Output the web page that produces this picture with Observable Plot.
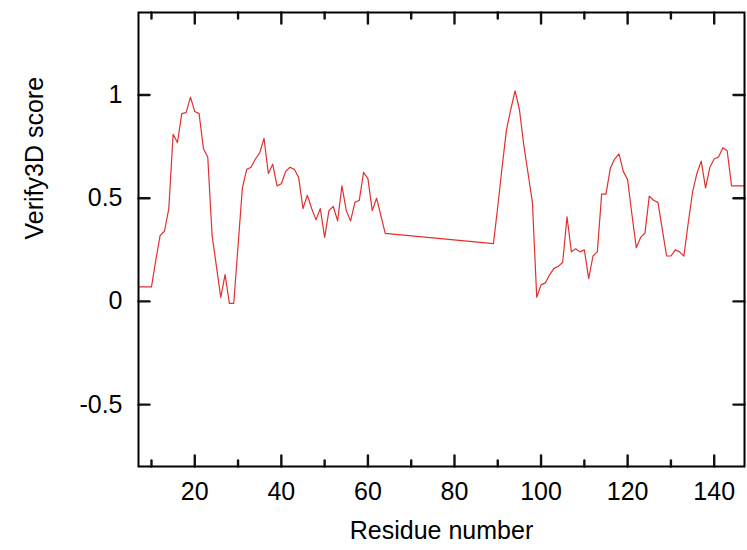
<!DOCTYPE html>
<html><head><meta charset="utf-8">
<script src="https://cdn.jsdelivr.net/npm/d3@7"></script>
<script src="https://cdn.jsdelivr.net/npm/@observablehq/plot@0.6"></script>
<style>body{margin:0;background:#fff}</style>
</head><body><div id="chart"></div>
<script>
const residues = [7,8,9,10,11,12,13,14,15,16,17,18,19,20,21,22,23,24,25,26,27,28,29,30,31,32,33,34,35,36,37,38,39,40,41,42,43,44,45,46,47,48,49,50,51,52,53,54,55,56,57,58,59,60,61,62,63,64,
  89,90,91,92,93,94,95,96,97,98,99,100,101,102,103,104,105,106,107,108,109,110,111,112,113,114,115,116,117,118,119,120,121,122,123,124,125,126,127,128,129,130,131,132,133,134,135,136,137,138,139,140,141,142,143,144,145,146,147];
const scores = [0.07,0.07,0.07,0.07,0.2,0.32,0.34,0.45,0.81,0.77,0.91,0.915,0.99,0.92,0.91,0.74,0.70,0.32,0.17,0.02,0.13,-0.01,-0.01,0.27,0.55,0.64,0.65,0.69,0.72,0.79,0.62,0.665,0.56,0.57,0.63,0.65,0.64,0.60,0.45,0.515,0.45,0.395,0.45,0.31,0.44,0.46,0.39,0.56,0.44,0.39,0.48,0.49,0.625,0.595,0.44,0.50,0.415,0.33,
  0.28,0.46,0.65,0.83,0.93,1.02,0.93,0.76,0.62,0.48,0.02,0.08,0.09,0.13,0.16,0.17,0.19,0.41,0.24,0.255,0.24,0.25,0.11,0.22,0.24,0.52,0.52,0.645,0.69,0.715,0.63,0.59,0.42,0.26,0.31,0.33,0.51,0.49,0.48,0.35,0.22,0.22,0.25,0.24,0.22,0.38,0.53,0.62,0.68,0.55,0.65,0.69,0.70,0.745,0.73,0.56,0.56,0.56,0.56];
const xMajorTicks = [20,40,60,80,100,120,140];
const xMinorTicks = [10,30,50,70,90,110,130];
const yTicks = [-0.5,0,0.5,1];
const xDomain = [7, 147];
const yDomain = [-0.8, 1.4];
const xLabel = "Residue number";
const yLabel = "Verify3D score";

const data = residues.map((r,i)=>({residue:r, score:scores[i]}));
const W = 747, H = 550, mL = 138, mR = 3, mT = 12, mB = 84;
const pW = W - mL - mR, pH = H - mT - mB;
const FS = 25;
const xPerPx = (xDomain[1] - xDomain[0]) / pW, yPerPx = (yDomain[1] - yDomain[0]) / pH;
const MAJ = 11, MIN = 6;
const tickSegs = [];
xMajorTicks.forEach(t => {
  tickSegs.push({k:"b"+t, x:t, y:yDomain[0]}, {k:"b"+t, x:t, y:yDomain[0] + MAJ*yPerPx});
  tickSegs.push({k:"t"+t, x:t, y:yDomain[1]}, {k:"t"+t, x:t, y:yDomain[1] - MAJ*yPerPx});
});
xMinorTicks.forEach(t => {
  tickSegs.push({k:"bm"+t, x:t, y:yDomain[0]}, {k:"bm"+t, x:t, y:yDomain[0] + MIN*yPerPx});
  tickSegs.push({k:"tm"+t, x:t, y:yDomain[1]}, {k:"tm"+t, x:t, y:yDomain[1] - MIN*yPerPx});
});
yTicks.forEach(t => {
  tickSegs.push({k:"l"+t, x:xDomain[0], y:t}, {k:"l"+t, x:xDomain[0] + MAJ*xPerPx, y:t});
  tickSegs.push({k:"r"+t, x:xDomain[1], y:t}, {k:"r"+t, x:xDomain[1] - MAJ*xPerPx, y:t});
});

const chart = Plot.plot({
  width: W, height: H, marginLeft: mL, marginRight: mR, marginTop: mT, marginBottom: mB,
  style: {fontFamily: "'Liberation Sans', Arial, sans-serif", fontSize: FS + "px", color: "#000", background: "#fff"},
  x: {domain: xDomain},
  y: {domain: yDomain},
  marks: [
    Plot.line(data, {x: "residue", y: "score", stroke: "#e03030", strokeWidth: 1.2}),
    Plot.line(tickSegs, {x: "x", y: "y", z: "k", stroke: "#111", strokeWidth: 2.4}),
    Plot.axisX(xMajorTicks, {anchor: "bottom", tickSize: 0, tickPadding: 16, label: null, fontSize: FS}),
    Plot.axisY(yTicks, {anchor: "left", tickSize: 0, tickPadding: 16, label: null, fontSize: FS, tickFormat: d => String(d)}),
    Plot.text([xLabel], {frameAnchor: "bottom", dy: 64, text: d => d, fontSize: FS, lineAnchor: "middle"}),
    Plot.text([yLabel], {frameAnchor: "left", dx: -104, rotate: -90, text: d => d, fontSize: FS, lineAnchor: "middle"}),
    Plot.frame({stroke: "#000", strokeWidth: 2})
  ]
});
document.getElementById("chart").append(chart);
</script>
</body></html>
